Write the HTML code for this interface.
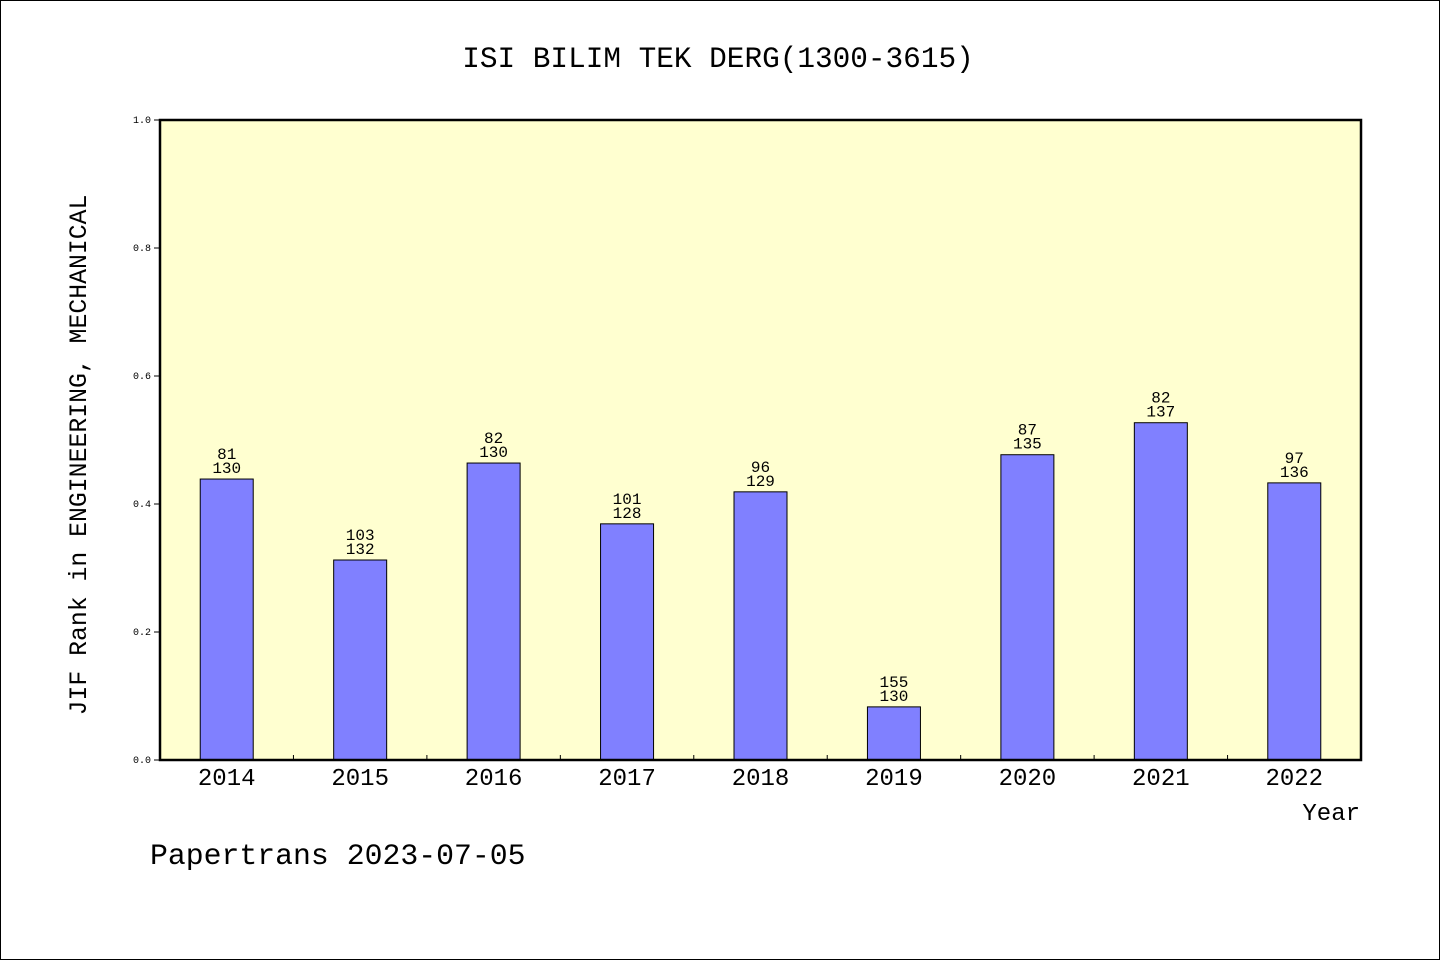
<!DOCTYPE html>
<html><head><meta charset="utf-8"><style>
html,body{margin:0;padding:0;background:#fff}
svg{display:block}
text{font-family:"Liberation Mono","DejaVu Sans Mono",monospace;fill:#000}
</style></head><body>
<svg id="chart" width="1440" height="960">
<rect x="0.5" y="0.5" width="1439" height="959" fill="#fff" stroke="#000"/>
<text x="718" y="67" font-size="29.4" text-anchor="middle">ISI BILIM TEK DERG(1300-3615)</text>
<rect x="160" y="120" width="1201" height="640" fill="#ffffd0"/>
<g id="bars"></g>
<rect x="160" y="120" width="1201" height="640" fill="none" stroke="#000" stroke-width="2.5"/>
<g id="axes"></g>
<text transform="translate(86,455) rotate(-90)" font-size="24.8" text-anchor="middle">JIF Rank in ENGINEERING, MECHANICAL</text>
<text x="1360" y="820" font-size="24" text-anchor="end">Year</text>
<text x="150" y="864" font-size="29.8">Papertrans 2023-07-05</text>
</svg>
<script>
const categories=["2014","2015","2016","2017","2018","2019","2020","2021","2022"];
const values=[0.439,0.3125,0.464,0.369,0.419,0.083,0.477,0.527,0.433];
const ranks=["81","103","82","101","96","155","87","82","97"];
const totals=["130","132","130","128","129","130","135","137","136"];
const yTicks=["0.0","0.2","0.4","0.6","0.8","1.0"];
const NS="http://www.w3.org/2000/svg";
const X0=160,X1=1361,Y0=760,Y1=120;
const slot=(X1-X0)/categories.length;
function xc(i){return X0+slot*(i+0.5);}
function y(v){return Y0-(Y0-Y1)*v;}
function mk(t,a,p){const e=document.createElementNS(NS,t);for(const k in a)e.setAttribute(k,a[k]);p.appendChild(e);return e;}
const bars=document.getElementById('bars'),axes=document.getElementById('axes');
categories.forEach((c,i)=>{
 const b=mk('rect',{x:xc(i)-26.5,y:y(values[i]),width:53,height:Y0-y(values[i]),fill:'#8080ff',stroke:'#000','stroke-width':1},bars);
 
 
 const t1=mk('text',{x:xc(i),y:y(values[i])-20,'font-size':16,'text-anchor':'middle'},bars);t1.textContent=ranks[i];
 
 
 const t2=mk('text',{x:xc(i),y:y(values[i])-6,'font-size':16,'text-anchor':'middle'},bars);t2.textContent=totals[i];
 
 
 const xl=mk('text',{x:xc(i),y:785,'font-size':24,'text-anchor':'middle'},axes);xl.textContent=c;
 
 
 if(i>0){const tk=mk('line',{x1:X0+slot*i,x2:X0+slot*i,y1:Y0,y2:Y0-5,stroke:'#000'},axes);
 
 }
});
yTicks.forEach(t=>{
 const v=parseFloat(t);
 const l=mk('line',{x1:X0-6,x2:X0,y1:y(v),y2:y(v),stroke:'#000'},axes);
 
 
 const tx=mk('text',{x:X0-9,y:y(v)+3,'font-size':10,'text-anchor':'end'},axes);tx.textContent=t;
 
 
});
</script>
</body></html>
